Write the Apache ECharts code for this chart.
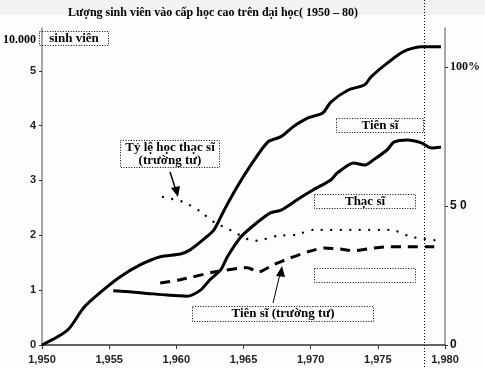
<!DOCTYPE html>
<html>
<head>
<meta charset="utf-8">
<script src="https://cdn.jsdelivr.net/npm/echarts@6/dist/echarts.min.js"></script>
<style>html,body{margin:0;padding:0;background:#fcfefc;}#c{width:485px;height:369px;}</style>
</head>
<body>
<div id="c"></div>
<script>
// ---- data (x = year, y = units of 10.000 students) ----
const upperYears = [1950, 1951.9, 1953.1, 1954.3, 1955.8, 1957.3, 1958.8, 1960.3, 1961.0, 1962.0, 1962.8, 1963.5, 1964.4, 1965.3, 1966.8, 1967.8, 1968.7, 1969.8, 1970.9, 1971.5, 1972.8, 1974.0, 1974.5, 1975.7, 1976.9, 1978.2, 1979.7];
const upperVals  = [0, 0.27, 0.68, 0.95, 1.24, 1.46, 1.61, 1.66, 1.73, 1.92, 2.10, 2.43, 2.83, 3.19, 3.70, 3.80, 3.98, 4.14, 4.23, 4.43, 4.65, 4.74, 4.89, 5.14, 5.35, 5.44, 5.44];

const lowerYears = [1955.3, 1957.5, 1959.3, 1960.8, 1961.8, 1962.5, 1963.3, 1963.8, 1964.8, 1966.0, 1967.0, 1967.8, 1969.0, 1970.2, 1971.5, 1972.0, 1973.2, 1974.0, 1974.7, 1975.7, 1976.2, 1977.2, 1978.2, 1979.0, 1979.7];
const lowerVals  = [0.99, 0.95, 0.91, 0.89, 1.00, 1.19, 1.37, 1.61, 1.97, 2.23, 2.41, 2.46, 2.65, 2.83, 3.01, 3.14, 3.32, 3.28, 3.38, 3.56, 3.70, 3.74, 3.69, 3.59, 3.61];

const privPhdYears = [1958.8, 1960.3, 1962.8, 1965.3, 1966.1, 1967.2, 1968.5, 1969.8, 1971.0, 1972.2, 1973.2, 1974.7, 1975.7, 1977.2, 1979.2];
const privPhdVals  = [1.13, 1.19, 1.33, 1.41, 1.33, 1.46, 1.59, 1.70, 1.77, 1.75, 1.72, 1.77, 1.79, 1.79, 1.79];

const privMaYears = [1959.0, 1960.5, 1961.7, 1962.8, 1964.0, 1965.3, 1966.0, 1967.5, 1968.9, 1970.2, 1973.0, 1976.0, 1977.5, 1979.6];
const privMaVals  = [2.70, 2.61, 2.45, 2.24, 2.10, 1.93, 1.90, 1.99, 2.01, 2.10, 2.10, 2.10, 1.97, 1.90];

const xTicks = [1950, 1955, 1960, 1965, 1970, 1975, 1980];
const leftTicks = [0, 1, 2, 3, 4, 5];
const rightTicks = [0, 50, 100];
const markerYear = 1978.4;

const titleText = 'Lượng sinh viên vào cấp học cao trên đại học( 1950 – 80)';

function pairs(xs, ys) { return xs.map((x, i) => [x, ys[i]]); }

const chart = echarts.init(document.getElementById('c'), null, {renderer: 'canvas'});
const serif = '"Liberation Serif","DejaVu Serif",serif';
const sans = '"Liberation Sans",Arial,sans-serif';

const option = {
  backgroundColor: '#fcfefc',
  animation: false,
  title: {
    text: titleText, left: 208, top: 2, textAlign: 'center',
    textStyle: {fontFamily: serif, fontWeight: 'bold', fontSize: 12, color: '#000'}
  },
  grid: {left: 42, right: 40, top: 28, bottom: 24},
  xAxis: {
    type: 'value', min: 1950, max: 1980, interval: 5,
    axisLine: {lineStyle: {color: '#333', width: 1.5}},
    axisTick: {show: true, length: 4, lineStyle: {color: '#333'}, customValues: xTicks},
    axisLabel: {customValues: xTicks, color: '#222', fontFamily: sans, fontWeight: 'bold', fontSize: 11, margin: 9},
    splitLine: {show: false}
  },
  yAxis: [
    {
      type: 'value', min: 0, max: 5.78, position: 'left',
      axisLine: {show: true, lineStyle: {color: '#888', width: 1.5}},
      axisTick: {show: true, length: 3, lineStyle: {color: '#333'}, customValues: leftTicks},
      axisLabel: {customValues: leftTicks, color: '#222', fontFamily: sans, fontWeight: 'bold', fontSize: 11, margin: 6},
      splitLine: {show: false}
    },
    {
      type: 'value', min: 0, max: 114, position: 'right',
      axisLine: {show: true, lineStyle: {color: '#888', width: 1.5}},
      axisTick: {show: true, length: 3, lineStyle: {color: '#333'}, customValues: rightTicks},
      axisLabel: {
        customValues: rightTicks, margin: 5,
        formatter: v => v === 100 ? '{p|100%}' : (v === 50 ? '{s|5 0}' : '{s|0}'),
        rich: {
          p: {fontFamily: serif, fontWeight: 'bold', fontSize: 12, color: '#111'},
          s: {fontFamily: sans, fontWeight: 'bold', fontSize: 12, color: '#111'}
        }
      },
      splitLine: {show: false}
    }
  ],
  series: [
    {type: 'line', data: pairs(upperYears, upperVals), showSymbol: false, smooth: 0.25,
     lineStyle: {color: '#000', width: 3}},
    {type: 'line', data: pairs(lowerYears, lowerVals), showSymbol: false, smooth: 0.25,
     lineStyle: {color: '#000', width: 3}},
    {type: 'line', data: pairs(privPhdYears, privPhdVals), showSymbol: false, smooth: 0.2,
     lineStyle: {color: '#000', width: 3, type: [10, 7]}},
    {type: 'line', data: pairs(privMaYears, privMaVals), showSymbol: false, smooth: 0.2,
     lineStyle: {color: '#000', width: 2.4, type: [0.01, 9.5], cap: 'round'}}
  ]
};
chart.setOption(option);

// annotations
const mx = Math.round(chart.convertToPixel({xAxisIndex: 0}, markerYear)) + 0.5;
function box(x, y, w, h, text) {
  const g = {
    type: 'rect', shape: {x: x, y: y, width: w, height: h},
    style: {fill: 'rgba(0,0,0,0)', stroke: '#000', lineWidth: 1, lineDash: [1, 1.6]},
    z: 10
  };
  if (text) {
    g.textContent = {style: {text: text, font: 'bold 13px ' + serif, fill: '#000', align: 'center', lineHeight: 13}};
    g.textConfig = {position: 'inside'};
  }
  return g;
}
const graphics = [
  {type: 'rect', shape: {x: 0, y: 0, width: 485, height: 15}, style: {fill: '#f2f2f2'}, z: -1},
  {type: 'line', shape: {x1: mx, y1: 0, x2: mx, y2: 369}, style: {stroke: '#000', lineWidth: 1, lineDash: [1, 2]}, z: 5},
  {type: 'text', left: 3, top: 34, style: {text: '10.000', font: 'bold 12px ' + serif, fill: '#000'}},
  box(39.5, 31.5, 69, 14, 'sinh viên'),
  box(120.5, 140.5, 99, 27, 'Tỷ lệ học thạc sĩ\n(trường tư)'),
  box(336.5, 118.5, 87, 14, 'Tiên sĩ'),
  box(314.5, 194.5, 101, 14, 'Thạc sĩ'),
  box(314.5, 268.5, 101, 14, ''),
  box(192.5, 306.5, 181, 15, 'Tiên sĩ (trường tư)'),
  {type: 'line', shape: {x1: 170, y1: 172, x2: 175.5, y2: 189}, style: {stroke: '#000', lineWidth: 1.5}},
  {type: 'polygon', shape: {points: [[171, 188], [180, 186], [178, 197]]}, style: {fill: '#000'}},
  {type: 'line', shape: {x1: 273, y1: 303, x2: 280, y2: 274}, style: {stroke: '#000', lineWidth: 1}},
  {type: 'polygon', shape: {points: [[276, 276], [285, 277], [282, 266]]}, style: {fill: '#000'}}
];
chart.setOption({graphic: graphics});
</script>
</body>
</html>
